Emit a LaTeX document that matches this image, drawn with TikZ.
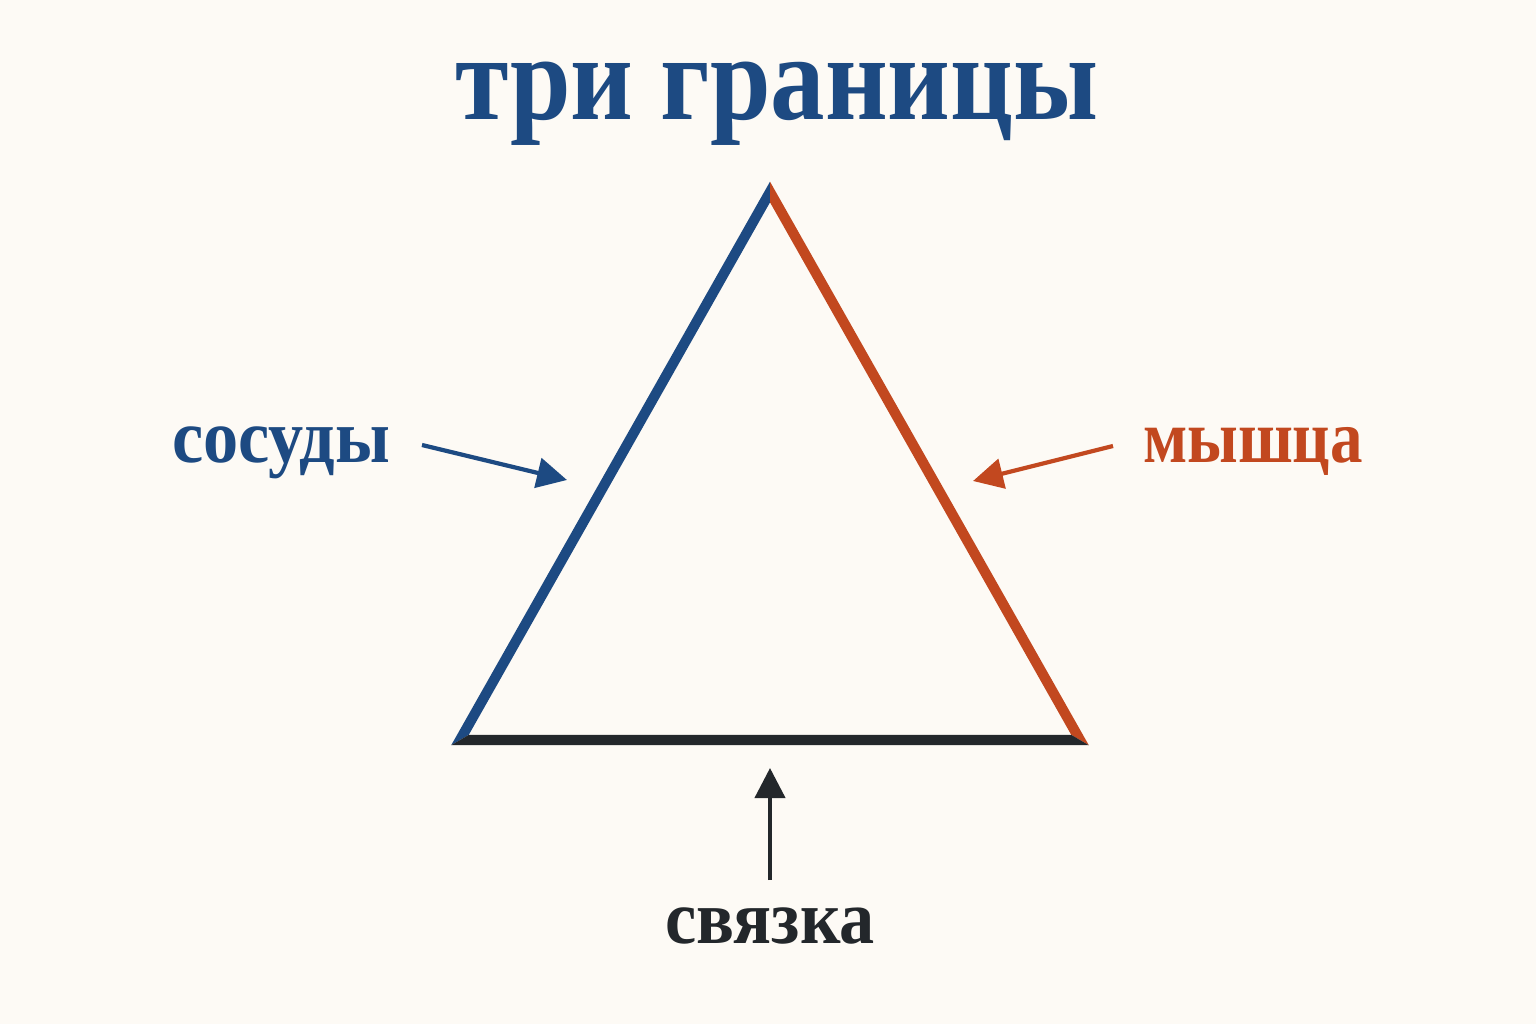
\documentclass[tikz,border=0pt]{standalone}
\usepackage{fontspec}
\setmainfont{Liberation Serif}
\usetikzlibrary{arrows.meta,calc}
\definecolor{bgpaper}{HTML}{FDFAF5}
\definecolor{vesselblue}{HTML}{1D4A82}
\definecolor{muscleorange}{HTML}{C2481F}
\definecolor{ligdark}{HTML}{23272B}
\tikzstyle{side}=[line width=2.9pt,line join=miter]
\tikzstyle{label}=[font=\bfseries\fontsize{20}{24}\selectfont,anchor=base]
\tikzstyle{point}=[-{Triangle[length=3mm,width=3mm]},line width=1.2pt]

\begin{document}
\begin{tikzpicture}

  \fill[bgpaper] (0,0) rectangle (15.36,10.24);
  \useasboundingbox (0,0) rectangle (15.36,10.24);

  \node[label,text=vesselblue,font=\bfseries\fontsize{31}{36}\selectfont,yscale=1.12] (title) at (7.77,9.04) {три границы};

  \coordinate (A) at (7.70,8.32);
  \coordinate (B) at (4.60,2.84);
  \coordinate (C) at (10.80,2.84);
  \coordinate (G) at (7.70,4.67);

  % each side in its own colour, split along the bisectors
  \begin{scope}
    \clip (G)--($(G)!3!(A)$)--($(G)!3!(B)$)--cycle;
    \draw[side,vesselblue] (A)--(B)--(C)--cycle;
  \end{scope}
  \begin{scope}
    \clip (G)--($(G)!3!(A)$)--($(G)!3!(C)$)--cycle;
    \draw[side,muscleorange] (A)--(B)--(C)--cycle;
  \end{scope}
  \begin{scope}
    \clip (G)--($(G)!3!(B)$)--($(G)!3!(C)$)--cycle;
    \draw[side,ligdark] (A)--(B)--(C)--cycle;
  \end{scope}

  \node[label,text=vesselblue,yscale=1.08] (vessels) at (2.81,5.62) {сосуды};
  \node[label,text=muscleorange,font=\bfseries\fontsize{18.5}{22}\selectfont,yscale=1.15] (muscle) at (12.53,5.62) {мышца};
  \node[label,text=ligdark,yscale=1.08] (ligament) at (7.70,0.81) {связка};

  \coordinate (vesA) at (4.22,5.79); \coordinate (vesB) at (5.67,5.44);
  \coordinate (musA) at (11.13,5.78); \coordinate (musB) at (9.73,5.43);
  \coordinate (ligA) at (7.70,1.44); \coordinate (ligB) at (7.70,2.56);

  \draw[point,vesselblue] (vesA)--(vesB);
  \draw[point,muscleorange] (musA)--(musB);
  \draw[point,ligdark] (ligA)--(ligB);

\end{tikzpicture}
\end{document}
